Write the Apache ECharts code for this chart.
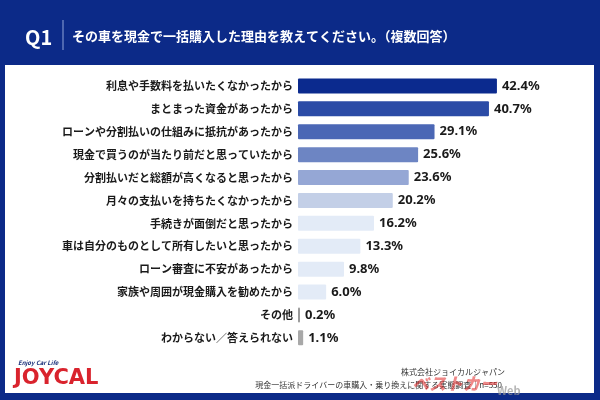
<!DOCTYPE html>
<html>
<head>
<meta charset="utf-8">
<script src="https://cdn.jsdelivr.net/npm/echarts@6/dist/echarts.min.js"></script>
<style>
  html, body { margin: 0; padding: 0; }
  #main { width: 600px; height: 400px; }
</style>
</head>
<body>
<div id="main"></div>
<script>
// 回答項目
var reasons = [
  '利息や手数料を払いたくなかったから',
  'まとまった資金があったから',
  'ローンや分割払いの仕組みに抵抗があったから',
  '現金で買うのが当たり前だと思っていたから',
  '分割払いだと総額が高くなると思ったから',
  '月々の支払いを持ちたくなかったから',
  '手続きが面倒だと思ったから',
  '車は自分のものとして所有したいと思ったから',
  'ローン審査に不安があったから',
  '家族や周囲が現金購入を勧めたから',
  'その他',
  'わからない／答えられない'
];
// 割合(%)
var rates = [42.4, 40.7, 29.1, 25.6, 23.6, 20.2, 16.2, 13.3, 9.8, 6.0, 0.2, 1.1];
var barColors = ['#0b2a8e', '#2b4ba6', '#4b67b5', '#6d85c3', '#95a7d5', '#c3cfe7',
  '#e3ebf7', '#e3ebf7', '#e3ebf7', '#e3ebf7', '#9a9a9a', '#a8a8a8'];

var font = '"Noto Sans CJK JP", "Noto Sans", sans-serif';
var myChart = echarts.init(document.getElementById('main'));

var option = {
  backgroundColor: '#0c2a88',
  textStyle: { fontFamily: font },
  animation: false,
  graphic: [
    { type: 'rect', shape: { x: 5, y: 65, width: 589, height: 328 }, style: { fill: '#ffffff' }, z: -10 },
    { type: 'text', left: 25, top: 27, style: { text: 'Q1', fill: '#fff', font: 'bold 20px ' + font } },
    { type: 'rect', shape: { x: 62.5, y: 20, width: 1, height: 30 }, style: { fill: '#8fa3d8' } },
    { type: 'text', left: 72, top: 30, style: { text: 'その車を現金で一括購入した理由を教えてください。（複数回答）', fill: '#fff', font: 'bold 13px ' + font } },
    { type: 'text', left: 18, top: 360, style: { text: 'Enjoy Car Life', fill: '#1a2f7a', font: 'italic bold 6px ' + font } },
    { type: 'text', left: 14, top: 368, style: { text: 'JOYCAL', fill: '#d9232d', font: '900 21px "DejaVu Sans", sans-serif' } },
    { type: 'text', right: 95, top: 368, style: { text: '株式会社ジョイカルジャパン', fill: '#333', font: '8px ' + font } },
    { type: 'text', right: 98, top: 381, style: { text: '現金一括派ドライバーの車購入・乗り換えに関する実態調査｜n=550', fill: '#333', font: '8px ' + font } },
    { type: 'text', left: 412, top: 375, style: { text: 'ベストカー', fill: 'rgba(225,40,40,0.55)', font: 'italic 900 17px ' + font } },
    { type: 'text', left: 497, top: 385, style: { text: 'Web', fill: 'rgba(150,150,150,0.7)', font: 'bold 11px ' + font } }
  ],
  grid: { left: 298, right: 20.5, top: 74.5, bottom: 50.7, containLabel: false },
  xAxis: { type: 'value', min: 0, max: 60, show: false, splitLine: { show: false } },
  yAxis: {
    type: 'category',
    data: reasons,
    inverse: true,
    axisLine: { show: false },
    axisTick: { show: false },
    axisLabel: { margin: 5, color: '#1a1a1a', fontSize: 11, fontWeight: 'bold', fontFamily: font }
  },
  series: [{
    type: 'bar',
    barWidth: 15,
    barMinHeight: 2,
    data: rates.map(function (v, i) {
      return { value: v, itemStyle: { color: barColors[i], borderRadius: 1 } };
    }),
    label: {
      show: true,
      position: 'right',
      distance: 5,
      color: '#1a1a1a',
      fontSize: 13,
      fontWeight: 'bold',
      fontFamily: '"Noto Sans", sans-serif',
      formatter: function (p) { return p.value.toFixed(1) + '%'; }
    }
  }]
};

myChart.setOption(option);
</script>
</body>
</html>
